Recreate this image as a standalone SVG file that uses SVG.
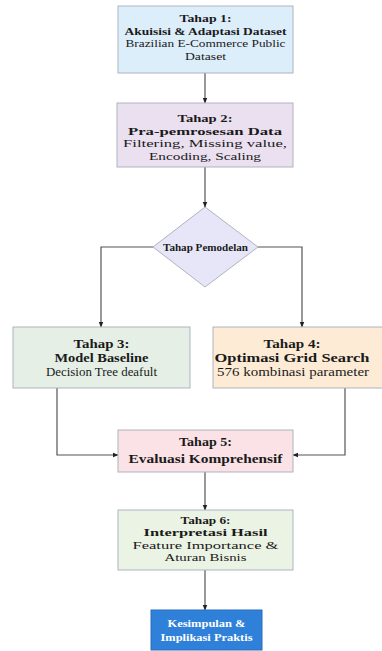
<svg xmlns="http://www.w3.org/2000/svg" width="382" height="651" viewBox="0 0 382 651">
<style>
.box{stroke:#aeb3bd;stroke-width:1}
text{font-family:'Liberation Serif','DejaVu Serif',serif;fill:#1a1a1a;text-anchor:middle}
.b{font-weight:bold}
.s{font-size:11.2px}
.p{font-size:11px}
.m{font-size:12.5px}
.c{fill:none;stroke:#555;stroke-width:1.2}
.w{font-size:11px;fill:#fff;font-weight:bold}
</style>
<defs>
<marker id="ah" viewBox="0 0 10 10" refX="9" refY="5" markerWidth="6" markerHeight="6" orient="auto" markerUnits="userSpaceOnUse">
<path d="M0,1 L10,5 L0,9 z" fill="#222"/>
</marker>
</defs>
<rect width="382" height="651" fill="#fff"/>
<g id="connectors">
<path class="c" d="M205,73 V103" marker-end="url(#ah)"/>
<path class="c" d="M205,167 V207" marker-end="url(#ah)"/>
<path class="c" d="M153,247 H101 V327" marker-end="url(#ah)"/>
<path class="c" d="M258,247 H302 V327" marker-end="url(#ah)"/>
<path class="c" d="M57,388 V455 H118" marker-end="url(#ah)"/>
<path class="c" d="M345,388 V455 H293" marker-end="url(#ah)"/>
<path class="c" d="M205,472 V510" marker-end="url(#ah)"/>
<path class="c" d="M205,570 V610" marker-end="url(#ah)"/>
</g>
<g id="tahap1">
<rect class="box" x="118" y="6" width="175" height="67" fill="#ddeefb"/>
<text class="b s" x="205.5" y="22" textLength="52" lengthAdjust="spacingAndGlyphs">Tahap 1:</text>
<text class="b s" x="205.5" y="34.5" textLength="162" lengthAdjust="spacingAndGlyphs">Akuisisi &amp; Adaptasi Dataset</text>
<text class="s" x="205.5" y="47" textLength="160" lengthAdjust="spacingAndGlyphs">Brazilian E-Commerce Public</text>
<text class="s" x="205.5" y="59.5" textLength="41" lengthAdjust="spacingAndGlyphs">Dataset</text>
</g>
<g id="tahap2">
<rect class="box" x="117" y="103" width="176" height="64" fill="#ebe0f0"/>
<text class="b p" x="205" y="122" textLength="55" lengthAdjust="spacingAndGlyphs">Tahap 2:</text>
<text class="b p" x="205" y="134.5" textLength="154" lengthAdjust="spacingAndGlyphs">Pra-pemrosesan Data</text>
<text class="p" x="205" y="147" textLength="164" lengthAdjust="spacingAndGlyphs">Filtering, Missing value,</text>
<text class="p" x="205" y="159.5" textLength="112" lengthAdjust="spacingAndGlyphs">Encoding, Scaling</text>
</g>
<g id="pemodelan">
<polygon class="box" points="205,207 258,247 205,287 153,247" fill="#e6e6f8"/>
<text class="b" style="font-size:10.5px" x="205.5" y="251" textLength="85" lengthAdjust="spacingAndGlyphs">Tahap Pemodelan</text>
</g>
<g id="tahap3">
<rect class="box" x="13" y="327" width="177" height="61" fill="#e5efe5"/>
<text class="b m" x="101.5" y="348" textLength="56" lengthAdjust="spacingAndGlyphs">Tahap 3:</text>
<text class="b m" x="101.5" y="362" textLength="94" lengthAdjust="spacingAndGlyphs">Model Baseline</text>
<text class="m" x="101.5" y="376" textLength="111" lengthAdjust="spacingAndGlyphs">Decision Tree deafult</text>
</g>
<g id="tahap4">
<rect class="box" x="213" y="327" width="175" height="61" fill="#fdebd6"/>
<text class="b m" x="292" y="348" textLength="57" lengthAdjust="spacingAndGlyphs">Tahap 4:</text>
<text class="b m" x="292" y="362" textLength="155" lengthAdjust="spacingAndGlyphs">Optimasi Grid Search</text>
<text class="m" x="293" y="376" textLength="152" lengthAdjust="spacingAndGlyphs">576 kombinasi parameter</text>
</g>
<g id="tahap5">
<rect class="box" x="118" y="430" width="175" height="42" fill="#fae2e6"/>
<text class="b m" x="205.5" y="446" textLength="53" lengthAdjust="spacingAndGlyphs">Tahap 5:</text>
<text class="b m" x="205.5" y="463" textLength="154" lengthAdjust="spacingAndGlyphs">Evaluasi Komprehensif</text>
</g>
<g id="tahap6">
<rect class="box" x="118" y="510" width="175" height="60" fill="#ebf3e4"/>
<text class="b p" x="205.5" y="523.5" textLength="50" lengthAdjust="spacingAndGlyphs">Tahap 6:</text>
<text class="b p" x="205.5" y="536" textLength="124" lengthAdjust="spacingAndGlyphs">Interpretasi Hasil</text>
<text class="p" x="205.5" y="548.5" textLength="146" lengthAdjust="spacingAndGlyphs">Feature Importance &amp;</text>
<text class="p" x="205.5" y="561" textLength="82" lengthAdjust="spacingAndGlyphs">Aturan Bisnis</text>
</g>
<g id="kesimpulan">
<rect x="151" y="610" width="111" height="40" fill="#2f80d9" stroke="#2a6fbd"/>
<text class="w" x="206.5" y="627" textLength="78" lengthAdjust="spacingAndGlyphs">Kesimpulan &amp;</text>
<text class="w" x="206.5" y="641" textLength="92" lengthAdjust="spacingAndGlyphs">Implikasi Praktis</text>
</g>
</svg>
